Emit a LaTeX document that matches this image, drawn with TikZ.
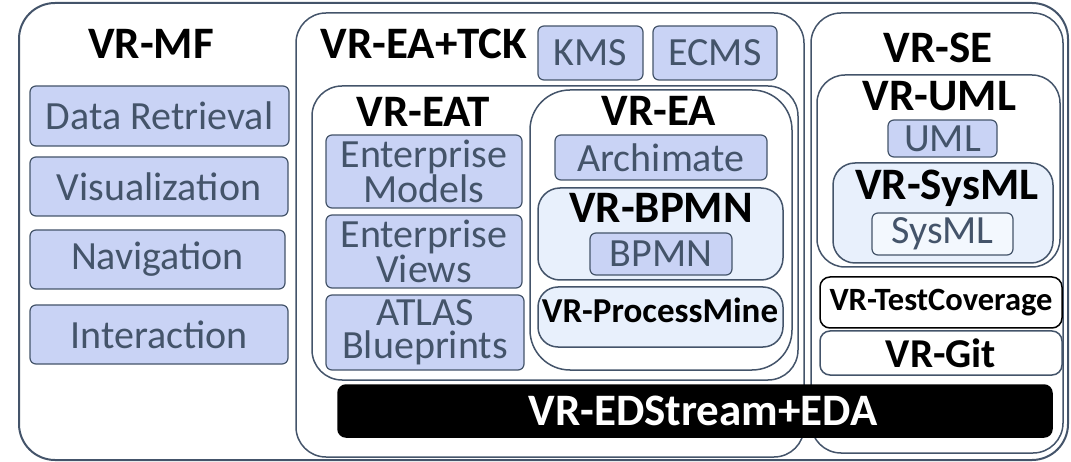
\documentclass[tikz,border=0pt]{standalone}
\usepackage{fontspec}
\setmainfont{Carlito}
\definecolor{slate}{RGB}{68,84,106}
\definecolor{lav}{RGB}{201,211,245}
\definecolor{pale}{RGB}{232,240,252}

\begin{document}
\begin{tikzpicture}[x=1pt,y=-1pt,
    sz/.style 2 args={minimum width=#1, minimum height=#2},
    frame/.style={draw=slate, line width=1.5pt, rounded corners=#1, inner sep=0pt},
    frame/.default=30pt,
    item/.style={draw=slate, fill=lav, line width=1.2pt, rounded corners=6pt, inner sep=0pt,
        text=slate, align=center, font=\fontsize{40}{33}\selectfont},
    head/.style={anchor=base, inner sep=0pt, font=\bfseries\fontsize{45}{45}\selectfont},
    smallhead/.style={inner sep=0pt, font=\bfseries\fontsize{32.5}{32.5}\selectfont}]
    \useasboundingbox (0,0) rectangle (1071,462);

    % outer frame and VR-MF column
    \node[frame=36pt, line width=2pt, sz={1049}{457}] (all) at (543.5,231.5) {};
    \node[head] (mf) at (151,59) {VR-MF};
    \node[item, sz={259}{60}] (dr) at (159.5,116) {Data Retrieval};
    \node[item, sz={258}{59}] (vis) at (159,186.5) {Visualization};
    \node[item, sz={255}{59}] (nav) at (157.5,259.5) {Navigation};
    \node[item, sz={258}{59}] (inter) at (159,334.5) {Interaction};

    % VR-EA+TCK
    \node[frame, sz={508}{444}] (tck) at (550,235) {};
    \node[head] (tckh) at (424,59) {VR-EA+TCK};
    \node[item, sz={105}{54}] (kms) at (590.5,53) {KMS};
    \node[item, sz={124}{54}] (ecms) at (715,53) {ECMS};
    \node[frame, sz={486}{294}] (eatbox) at (555,233) {};
    \node[head] (eat) at (423,127) {VR-EAT};
    \node[item, sz={196}{73}] (em) at (424,171.5) {Enterprise\\Models};
    \node[item, sz={196}{73}] (ev) at (424,251.5) {Enterprise\\Views};
    \node[item, sz={198}{75}] (atlas) at (425,332.5) {ATLAS\\Blueprints};
    \node[frame=40pt, sz={262}{280}] (eabox) at (661,230) {};
    \node[head] (ea) at (659,126) {VR-EA};
    \node[item, sz={212}{45}] (arch) at (661,157.5) {Archimate};
    \node[frame=22pt, fill=pale, sz={245}{92}] (bpmnbox) at (660.5,234) {};
    \node[head] (bpmnh) at (661,223) {VR-BPMN};
    \node[item, sz={142}{42}] (bpmn) at (661,254) {BPMN};
    \node[frame=20pt, fill=pale, sz={245}{60}] (pmbox) at (660.5,317) {};
    \node[smallhead, anchor=base, font=\bfseries\fontsize{35}{35}\selectfont] (pm) at (660,323) {VR-ProcessMine};

    % VR-SE
    \node[frame, sz={252}{440}] (se) at (937,233) {};
    \node[head] (seh) at (938,63) {VR-SE};
    \node[frame=28pt, sz={243}{192}] (umlbox) at (938.5,171) {};
    \node[head] (umlh) at (939.5,111) {VR-UML};
    \node[item, sz={109}{37}] (uml) at (942.5,138.5) {UML};
    \node[frame=22pt, fill=pale, sz={220}{100}] (sysbox) at (943,213) {};
    \node[head] (sysh) at (947,200) {VR-SysML};
    \node[item, fill=pale!50!white, sz={141}{42}] (sysml) at (942.5,234) {SysML};
    \node[frame=10pt, draw=black, smallhead, sz={242}{51}] (tc) at (941,302.5) {VR-TestCoverage};
    \node[frame=10pt, sz={242}{44}, font=\bfseries\fontsize{41}{41}\selectfont] (git) at (941,353) {VR-Git};

    % event stream bar
    \node[frame=8pt, draw=black, fill=black, text=white, sz={714}{52},
        font=\bfseries\fontsize{45}{45}\selectfont] (eda) at (695,411) {\hspace*{16pt}VR-EDStream+EDA};
\end{tikzpicture}
\end{document}
